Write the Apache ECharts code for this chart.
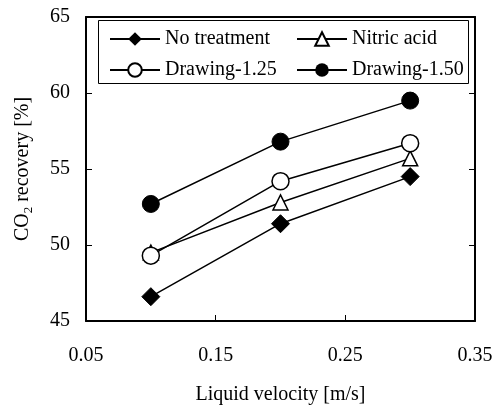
<!DOCTYPE html>
<html>
<head>
<meta charset="utf-8">
<script src="https://cdn.jsdelivr.net/npm/echarts@6/dist/echarts.min.js"></script>
<style>
  html, body { margin: 0; padding: 0; background: #fff; }
  #main { width: 499px; height: 410px; }
</style>
</head>
<body>
<div id="main"></div>
<script>
var velocity = [0.1, 0.2, 0.3];
var noTreatment = [46.6, 51.4, 54.5];
var nitricAcid = [49.5, 52.8, 55.7];
var drawing125 = [49.3, 54.2, 56.7];
var drawing150 = [52.7, 56.8, 59.5];

var FONT = 'Liberation Serif';

function pairs(vals) {
    return velocity.map(function (v, i) { return [v, vals[i]]; });
}

var chart = echarts.init(document.getElementById('main'));

var lineStyle = { color: '#000', width: 1.5 };

var option = {
    animation: false,
    backgroundColor: '#fff',
    textStyle: { fontFamily: FONT, color: '#000' },
    grid: { left: 86, right: 24, top: 17, bottom: 88 },
    graphic: [{
        type: 'rect',
        shape: { x: 98.5, y: 20.5, width: 370, height: 63 },
        style: { fill: '#fff', stroke: '#000', lineWidth: 1 },
        z: 50
    }],
    legend: [
        {
            orient: 'vertical',
            left: 104, top: 24,
            itemWidth: 50, itemHeight: 17, itemGap: 11,
            textStyle: { fontFamily: FONT, fontSize: 20, color: '#000' },
            data: ['No treatment', 'Drawing-1.25'],
            z: 60
        },
        {
            orient: 'vertical',
            left: 291, top: 24,
            itemWidth: 50, itemHeight: 17, itemGap: 11,
            textStyle: { fontFamily: FONT, fontSize: 20, color: '#000' },
            data: ['Nitric acid', 'Drawing-1.50'],
            z: 60
        }
    ],
    xAxis: [
        {
            type: 'value', min: 0.05, max: 0.35, interval: 0.1,
            name: 'Liquid velocity [m/s]',
            nameLocation: 'middle', nameGap: 64,
            nameTextStyle: { fontFamily: FONT, fontSize: 20, color: '#000' },
            axisLine: { lineStyle: { color: '#000', width: 2 } },
            axisTick: { inside: true, length: 6, lineStyle: { color: '#000', width: 1 } },
            axisLabel: {
                margin: 25, fontFamily: FONT, fontSize: 20, color: '#000',
                formatter: function (v) { return v.toFixed(2); },
                showMinLabel: true, showMaxLabel: true
            },
            splitLine: { show: false }
        },
        {
            type: 'value', position: 'top', min: 0.05, max: 0.35, interval: 0.1,
            axisLine: { lineStyle: { color: '#000', width: 2 } },
            axisTick: { show: false },
            axisLabel: { show: false },
            splitLine: { show: false }
        }
    ],
    yAxis: [
        {
            type: 'value', min: 45, max: 65, interval: 5,
            name: '{a|CO}{s|2}{a| recovery [%]}',
            nameLocation: 'middle', nameGap: 53,
            nameTextStyle: {
                rich: {
                    a: { fontFamily: FONT, fontSize: 20, color: '#000', lineHeight: 24, verticalAlign: 'bottom' },
                    s: { fontFamily: FONT, fontSize: 13, color: '#000', lineHeight: 24, verticalAlign: 'bottom', padding: [0, 0, -2, 0] }
                }
            },
            axisLine: { lineStyle: { color: '#000', width: 2 } },
            axisTick: { inside: true, length: 6, lineStyle: { color: '#000', width: 1 } },
            axisLabel: { margin: 16, fontFamily: FONT, fontSize: 20, color: '#000' },
            splitLine: { show: false }
        },
        {
            type: 'value', position: 'right', min: 45, max: 65, interval: 5,
            axisLine: { show: true, lineStyle: { color: '#000', width: 2 } },
            axisTick: { inside: true, length: 6, lineStyle: { color: '#000', width: 1 } },
            axisLabel: { show: false },
            splitLine: { show: false }
        }
    ],
    series: [
        {
            name: 'No treatment', type: 'line', data: pairs(noTreatment),
            symbol: 'diamond', symbolSize: 18,
            itemStyle: { color: '#000', borderColor: '#000' },
            lineStyle: lineStyle
        },
        {
            name: 'Nitric acid', type: 'line', data: pairs(nitricAcid),
            symbol: 'triangle', symbolSize: [15, 15],
            itemStyle: { color: '#fff', borderColor: '#000', borderWidth: 1.5 },
            lineStyle: lineStyle
        },
        {
            name: 'Drawing-1.25', type: 'line', data: pairs(drawing125),
            symbol: 'circle', symbolSize: 17,
            itemStyle: { color: '#fff', borderColor: '#000', borderWidth: 1.5 },
            lineStyle: lineStyle
        },
        {
            name: 'Drawing-1.50', type: 'line', data: pairs(drawing150),
            symbol: 'circle', symbolSize: 17,
            itemStyle: { color: '#000', borderColor: '#000' },
            lineStyle: lineStyle
        }
    ]
};

chart.setOption(option);
</script>
</body>
</html>
